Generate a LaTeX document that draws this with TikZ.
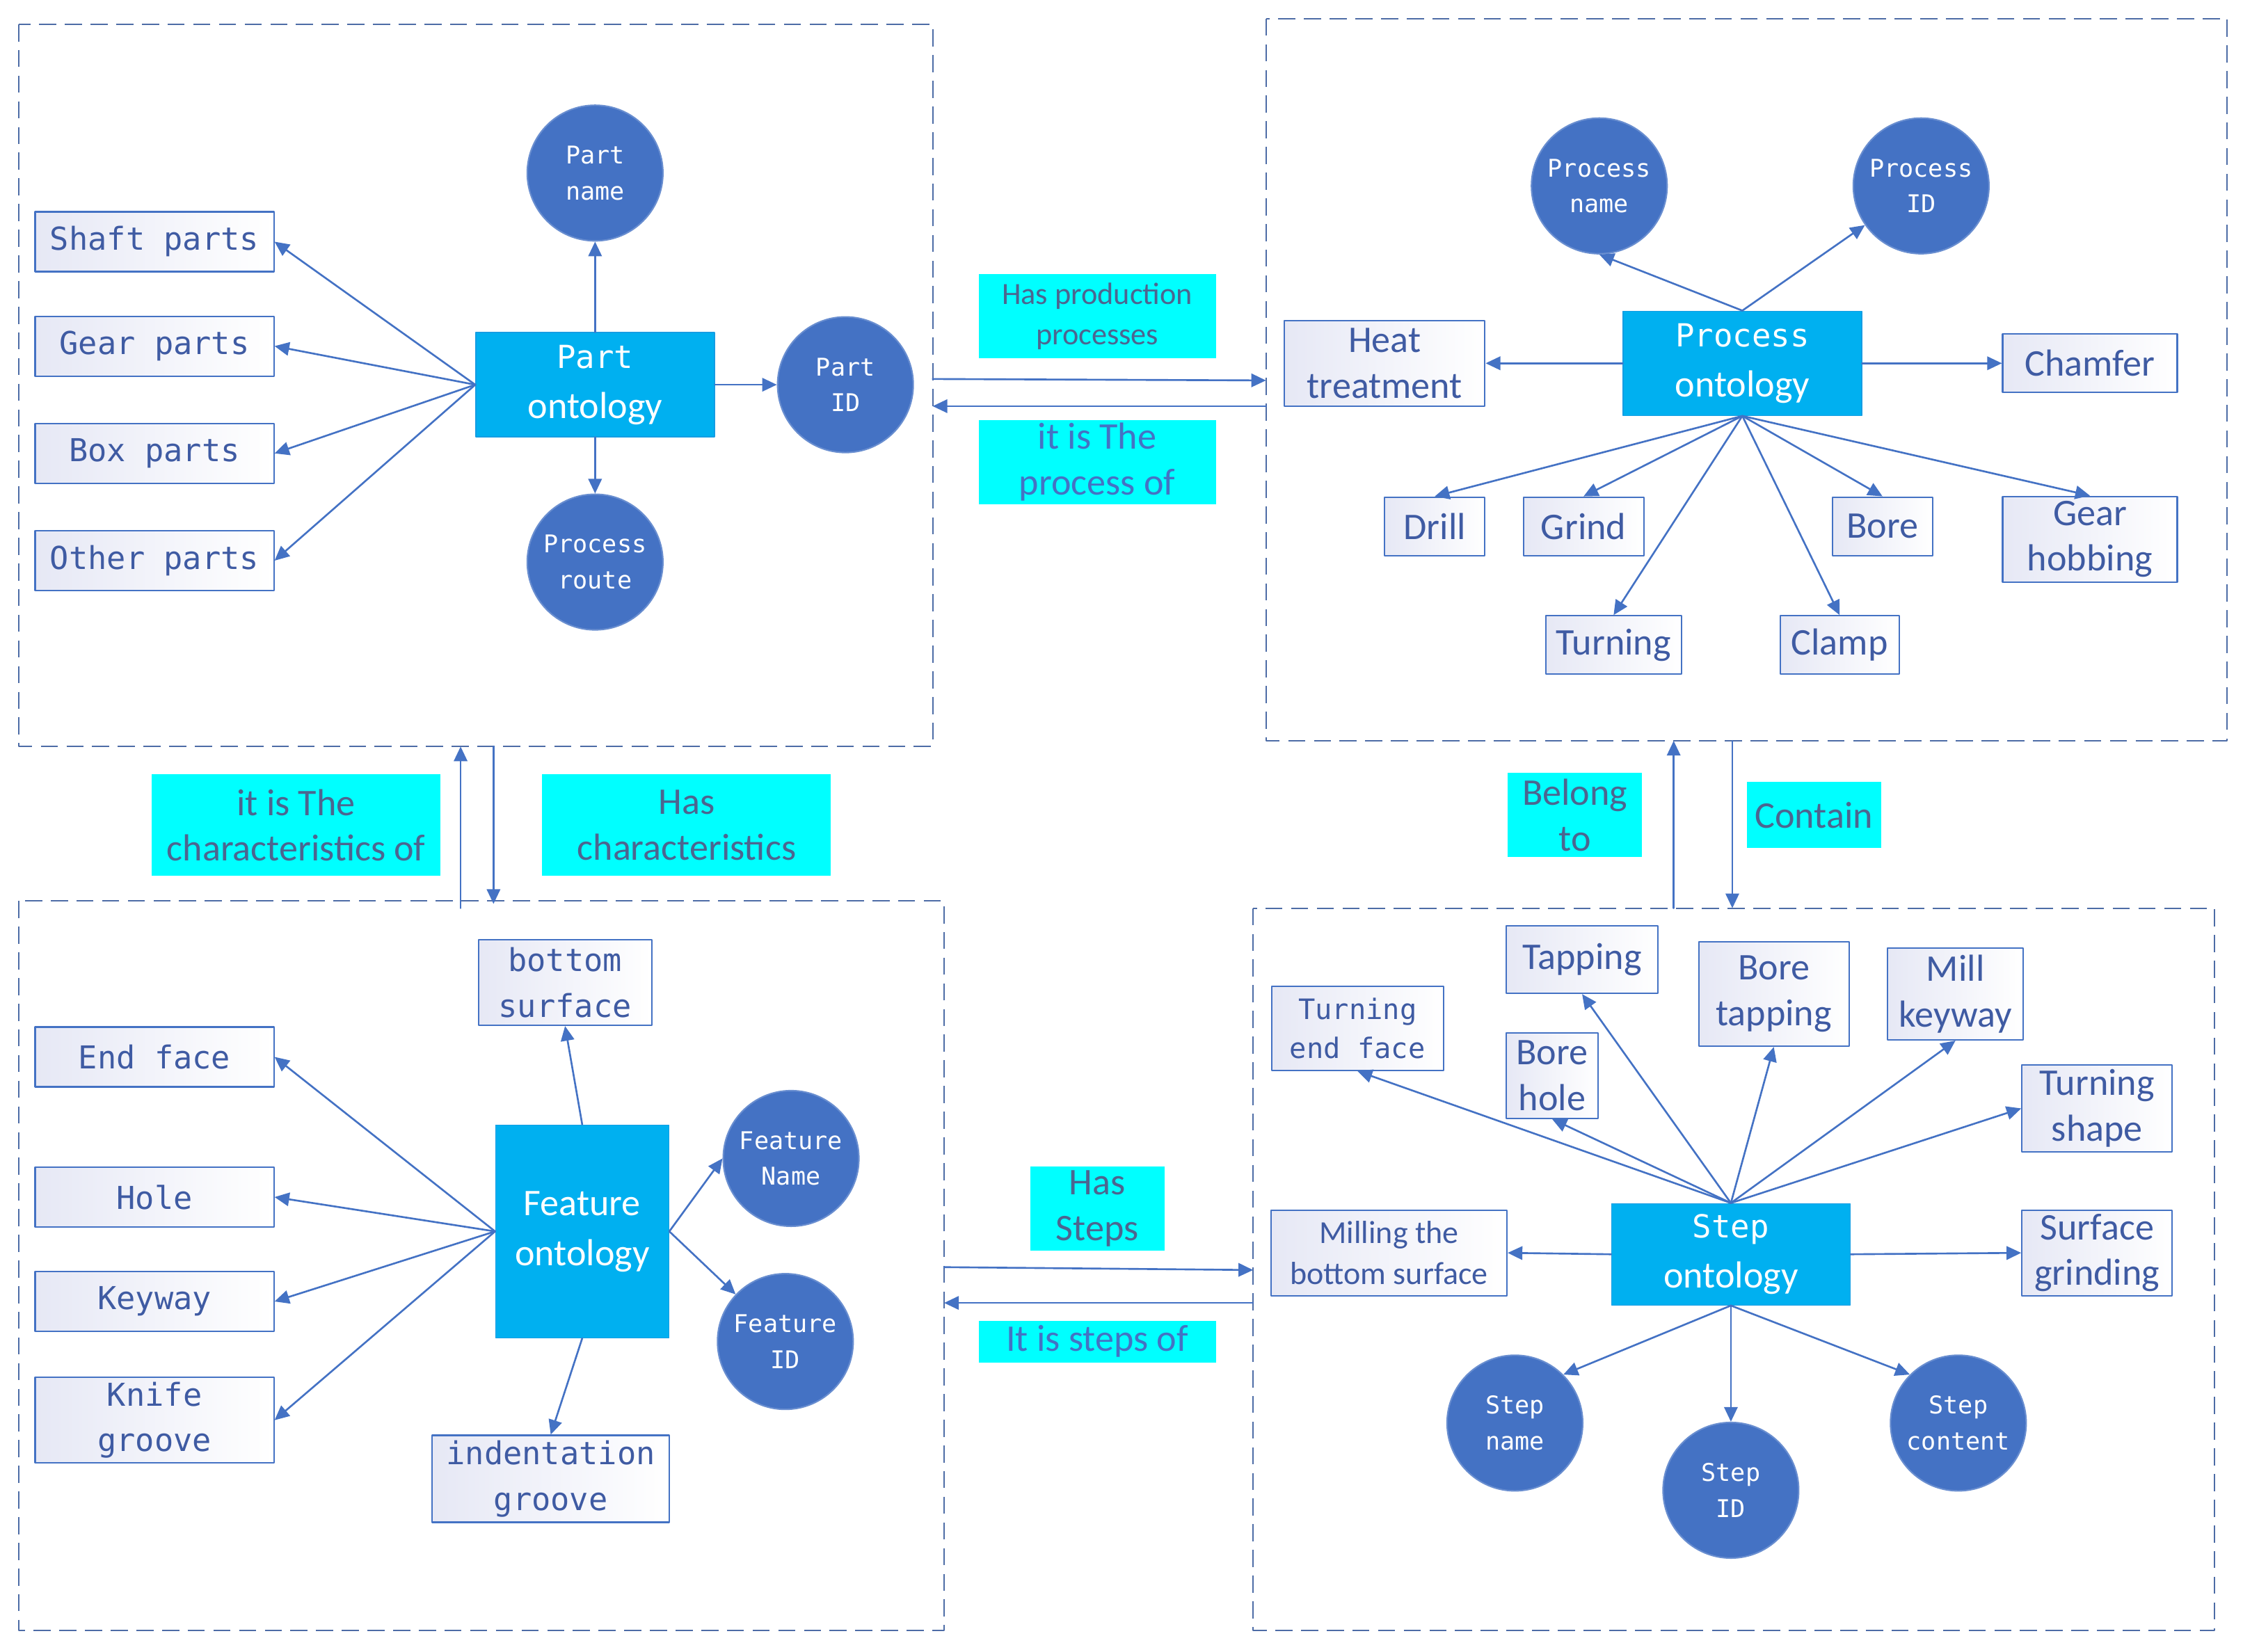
\documentclass[tikz,border=0pt]{standalone}
\usepackage{fontspec}
\setmainfont{Carlito}
\newfontfamily\gothic{DejaVu Sans Mono}
\usepackage{tikz}
\usetikzlibrary{arrows.meta}
\usetikzlibrary{positioning}
\definecolor{LineBlue}{HTML}{4472C4}
\definecolor{FrameBlue}{HTML}{4D6CA6}
\definecolor{OntoBlue}{HTML}{00B0F0}
\definecolor{LeafShade}{HTML}{E6E8F5}
\definecolor{LeafText}{HTML}{3F5BA3}
\definecolor{RelGray}{HTML}{4C6590}
\definecolor{RelCyan}{HTML}{00FFFF}

\begin{document}
\begin{tikzpicture}[x=0.2056mm,y=-0.2056mm,line cap=round,line join=round,
  >={Triangle[length=6pt,width=5.5pt]},
  frame/.style={draw=FrameBlue,line width=.6pt,line cap=butt,dash pattern=on 7pt off 3.5pt},
  leaf/.style={draw=LineBlue,line width=.6pt,left color=LeafShade,right color=white,text=LeafText,align=center,inner sep=0pt},
  gleaf/.style={leaf,font=\gothic\fontsize{12.9}{18.7}\selectfont},
  cleaf/.style={leaf,font=\fontsize{15.4}{18.7}\selectfont},
  attr/.style={circle,fill=LineBlue,draw=LineBlue!80!white,line width=.6pt,minimum size=1.95cm,inner sep=0pt,text=white,align=center,font=\gothic\fontsize{10}{14.6}\selectfont},
  onto/.style={fill=OntoBlue,draw=OntoBlue!70!LineBlue,line width=.4pt,text=white,align=center,inner sep=0pt,font=\fontsize{15.4}{20.5}\selectfont},
  rel/.style={fill=RelCyan,text=RelGray,align=center,inner sep=0pt,font=\fontsize{15.4}{18.7}\selectfont},
  link/.style={->,draw=LineBlue,line width=.75pt}]
\useasboundingbox (0,0) rectangle (1568,1155);

% frames
\draw[frame] (13,17) rectangle (652,522);
\draw[frame] (885,13) rectangle (1557,518);
\draw[frame] (13,630) rectangle (660,1140);
\draw[frame] (876,635) rectangle (1548,1140);

% part ontology
\draw (416,269) node[onto,minimum width=3.43cm,minimum height=1.5cm](po){{\gothic\fontsize{13}{20.5}\selectfont Part}\\ontology};
\draw (416,121) node[attr](pname){Part\\name};
\draw (416,393) node[attr](proute){Process\\route};
\draw (591,269) node[attr](pid){Part\\ID};
\draw (108,169) node[gleaf,minimum width=3.43cm,minimum height=.86cm](shaft){Shaft parts};
\draw (108,242) node[gleaf,minimum width=3.43cm,minimum height=.86cm](gear){Gear parts};
\draw (108,317) node[gleaf,minimum width=3.43cm,minimum height=.86cm](boxp){Box parts};
\draw (108,392) node[gleaf,minimum width=3.43cm,minimum height=.86cm](other){Other parts};

\path (po.west) edge[link] (shaft.east);
\path (po.west) edge[link] (gear.east);
\path (po.west) edge[link] (boxp.east);
\path (po.west) edge[link] (other.east);
\path (po.north) edge[link] (pname.south);
\path (po.south) edge[link] (proute.north);
\path (po.east) edge[link] (pid.west);

% process ontology
\draw (1218,254) node[onto,minimum width=3.43cm,minimum height=1.5cm](pro){{\gothic\fontsize{13}{20.5}\selectfont Process}\\ontology};
\draw (1118,130) node[attr](prname){Process\\name};
\draw (1343,130) node[attr](prid){Process\\ID};
\draw (968,254) node[cleaf,minimum width=2.88cm,minimum height=1.23cm](heat){Heat\\treatment};
\draw (1461,254) node[cleaf,minimum width=2.51cm,minimum height=.84cm](chamfer){Chamfer};
\draw (1003,368) node[cleaf,minimum width=1.44cm,minimum height=.84cm](drill){Drill};
\draw (1107,368) node[cleaf,minimum width=1.73cm,minimum height=.84cm](grind){Grind};
\draw (1316,368) node[cleaf,minimum width=1.44cm,minimum height=.84cm](bore){Bore};
\draw (1461,377) node[cleaf,minimum width=2.51cm,minimum height=1.23cm](hob){Gear\\hobbing};
\draw (1128,451) node[cleaf,minimum width=1.95cm,minimum height=.84cm](turn){Turning};
\draw (1286,451) node[cleaf,minimum width=1.71cm,minimum height=.84cm](clamp){Clamp};

\path (pro.north) edge[link] (prname.south);
\path (pro.north) edge[link] (prid);
\path (pro.west) edge[link] (heat.east);
\path (pro.east) edge[link] (chamfer.west);
\path (pro.south) edge[link] (drill.north);
\path (pro.south) edge[link] (grind.north);
\path (pro.south) edge[link] (turn.north);
\path (pro.south) edge[link] (clamp.north);
\path (pro.south) edge[link] (bore.north);
\path (pro.south) edge[link] (hob.north);

% feature ontology
\draw (407,861) node[onto,minimum width=2.49cm,minimum height=3.06cm](fo){Feature\\ontology};
\draw (553,810) node[attr](fname){Feature\\Name};
\draw (549,938) node[attr](fid){Feature\\ID};
\draw (395,687) node[gleaf,minimum width=2.49cm,minimum height=1.23cm](bsurf){bottom\\surface};
\draw (108,739) node[gleaf,minimum width=3.43cm,minimum height=.86cm](endface){End face};
\draw (108,837) node[gleaf,minimum width=3.43cm,minimum height=.86cm](hole){Hole};
\draw (108,910) node[gleaf,minimum width=3.43cm,minimum height=.86cm](keyway){Keyway};
\draw (108,993) node[gleaf,minimum width=3.43cm,minimum height=1.23cm](knife){Knife\\groove};
\draw (385,1034) node[gleaf,minimum width=3.41cm,minimum height=1.25cm](indent){indentation\\groove};

\path (fo.west) edge[link] (endface.east);
\path (fo.west) edge[link] (hole.east);
\path (fo.west) edge[link] (keyway.east);
\path (fo.west) edge[link] (knife.east);
\path (fo.north) edge[link] (bsurf.south);
\path (fo.south) edge[link] (indent.north);
\path (fo.east) edge[link] (fname.west);
\path (fo.east) edge[link] (fid);

% step ontology
\draw (1210,877) node[onto,minimum width=3.43cm,minimum height=1.46cm](so){{\gothic\fontsize{13}{20.5}\selectfont Step}\\ontology};
\draw (1106,671) node[cleaf,minimum width=2.18cm,minimum height=.97cm](tap){Tapping};
\draw (949,719) node[gleaf,font=\gothic\fontsize{11.5}{16}\selectfont,minimum width=2.47cm,minimum height=1.21cm](tend){Turning\\end face};
\draw (1085,752) node[cleaf,minimum width=1.32cm,minimum height=1.23cm](bhole){Bore\\hole};
\draw (1240,695) node[cleaf,minimum width=2.16cm,minimum height=1.5cm](btap){Bore\\tapping};
\draw (1367,695) node[cleaf,minimum width=1.95cm,minimum height=1.32cm](mill){Mill\\keyway};
\draw (1466,775) node[cleaf,minimum width=2.16cm,minimum height=1.25cm](tshape){Turning\\shape};
\draw (971,876) node[cleaf,font=\fontsize{13.1}{17}\selectfont,minimum width=3.39cm,minimum height=1.23cm](millbs){Milling the\\bottom surface};
\draw (1466,876) node[cleaf,minimum width=2.16cm,minimum height=1.23cm](sgrind){Surface\\grinding};
\draw (1059,995) node[attr](sname){Step\\name};
\draw (1210,1042) node[attr](sid){Step\\ID};
\draw (1369,995) node[attr](scont){Step\\content};

\path (so.north) edge[link] (tend.south);
\path (so.north) edge[link] (bhole.south);
\path (so.north) edge[link] (tap.south);
\path (so.north) edge[link] (btap.south);
\path (so.north) edge[link] (mill.south);
\path (so.north) edge[link] (tshape.west);
\path (so.west) edge[link] (millbs.east);
\path (so.east) edge[link] (sgrind.west);
\path (so.south) edge[link] (sname.north east);
\path (so.south) edge[link] (sid.north);
\path (so.south) edge[link] (scont.north west);

% relations between the frames
\draw (767,221) node[rel,font=\fontsize{12.6}{16.4}\selectfont,minimum width=3.41cm,minimum height=1.21cm](hasproc){Has production\\processes};
\draw (767,323) node[rel,text=LineBlue,minimum width=3.41cm,minimum height=1.21cm](procof){it is The\\process of};
\draw (207,577) node[rel,minimum width=4.15cm,minimum height=1.46cm](charof){it is The\\characteristics of};
\draw (480,577) node[rel,minimum width=4.15cm,minimum height=1.46cm](haschar){Has\\characteristics};
\draw (1101,570) node[rel,minimum width=1.93cm,minimum height=1.21cm](belong){Belong\\to};
\draw (1268,570) node[rel,minimum width=1.93cm,minimum height=.95cm](contain){Contain};
\draw (767,845) node[rel,minimum width=1.93cm,minimum height=1.21cm](hassteps){Has\\Steps};
\draw (767,938) node[rel,text=LineBlue,minimum width=3.41cm,minimum height=.6cm](stepsof){It is steps of};

\coordinate (pe1) at (652,265); \coordinate (pe2) at (885,266);
\coordinate (pe3) at (885,284); \coordinate (pe4) at (652,284);
\coordinate (fe1) at (322,635); \coordinate (fe2) at (322,522);
\coordinate (fe3) at (345,522); \coordinate (fe4) at (345,632);
\coordinate (se1) at (660,886); \coordinate (se2) at (876,888);
\coordinate (se3) at (876,911); \coordinate (se4) at (660,911);
\coordinate (ce1) at (1170,635); \coordinate (ce2) at (1170,518);
\coordinate (ce3) at (1211,518); \coordinate (ce4) at (1211,635);

\path (pe1) edge[link] (pe2);
\path (pe3) edge[link] (pe4);
\path (fe1) edge[link] (fe2);
\path (fe3) edge[link] (fe4);
\path (se1) edge[link] (se2);
\path (se3) edge[link] (se4);
\path (ce1) edge[link] (ce2);
\path (ce3) edge[link] (ce4);
\end{tikzpicture}
\end{document}
